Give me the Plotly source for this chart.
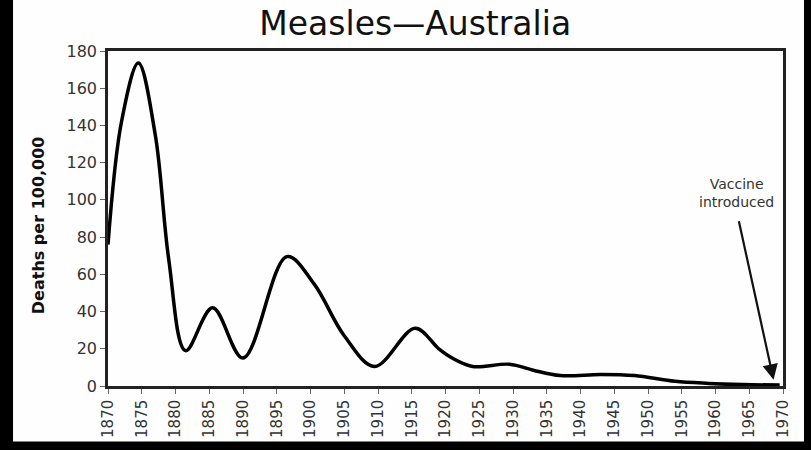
import plotly.graph_objects as go

years = [1870, 1872, 1874.5, 1877, 1879, 1881.5, 1885.5, 1890,
         1896.5, 1900.5, 1905, 1909.5, 1915.5, 1919, 1921, 1924, 1929.5, 1933, 1937, 1943,
         1948, 1954, 1959, 1964, 1969.5]
deaths = [76, 142, 173.5, 135, 68, 19, 42, 15,
          69.5, 55, 27, 10.5, 31, 20, 15, 10.5, 11.7, 8.5, 5.6, 6.2,
          5.6, 2.5, 1.4, 0.8, 0.5]

x_ticks = list(range(1870, 1971, 5))
y_ticks = list(range(0, 181, 20))

title_text = "Measles\u2014Australia"
y_title = "Deaths per 100,000"
note_text = "Vaccine<br>introduced"
vaccine_year = 1968.6
vaccine_value = 3.4

FONT = "DejaVu Sans"

fig = go.Figure()
fig.add_trace(go.Scatter(
    x=years, y=deaths, mode="lines",
    line=dict(color="black", width=3.5, shape="spline", smoothing=1.0),
    hoverinfo="skip", showlegend=False,
))

axis_common = dict(
    showline=True, linecolor="#222", linewidth=2.5, mirror=True,
    ticks="outside", ticklen=5, tickcolor="#666", tickwidth=1,
    showgrid=False, zeroline=False,
)

fig.update_xaxes(range=[1870, 1970], tickvals=x_ticks, ticktext=[str(v) for v in x_ticks],
                 tickangle=-90, tickfont=dict(family=FONT, size=15, color="#333"), **axis_common)
fig.update_yaxes(range=[0, 180], tickvals=y_ticks, ticktext=[str(v) for v in y_ticks],
                 tickfont=dict(family=FONT, size=16, color="#333"), **axis_common)

# white page area on black surround
fig.add_shape(type="rect", xref="paper", yref="paper", layer="below",
              x0=-0.1407, x1=1.0311, y0=-0.1659, y1=1.2,
              fillcolor="#fefefe", line=dict(width=0))

fig.add_annotation(text=y_title, xref="paper", yref="paper", x=-0.1037, y=0.48,
                   textangle=-90, showarrow=False, xanchor="center", yanchor="middle",
                   font=dict(family=FONT, size=16, color="#111", weight="bold"))

fig.add_annotation(text=note_text, xref="x", yref="y", x=vaccine_year, y=vaccine_value,
                   showarrow=False, xshift=-37, yshift=187,
                   font=dict(family=FONT, size=14, color="#333"), align="center")
fig.add_annotation(text="", xref="x", yref="y", x=vaccine_year, y=vaccine_value,
                   ax=-35, ay=-160, showarrow=True, arrowhead=2, arrowsize=1.4,
                   arrowwidth=2.2, arrowcolor="#111")

fig.update_layout(
    width=811, height=450,
    margin=dict(l=108, r=28, t=51, b=58),
    paper_bgcolor="black", plot_bgcolor="#fefefe",
    title=dict(text=title_text, x=0.512, xanchor="center", y=1 - 23 / 450, yanchor="middle",
               font=dict(family=FONT, size=33, color="#111")),
)

fig.write_html("out.html", config={"displayModeBar": False},
               post_script="document.body.style.margin='0';document.body.style.background='black';")
